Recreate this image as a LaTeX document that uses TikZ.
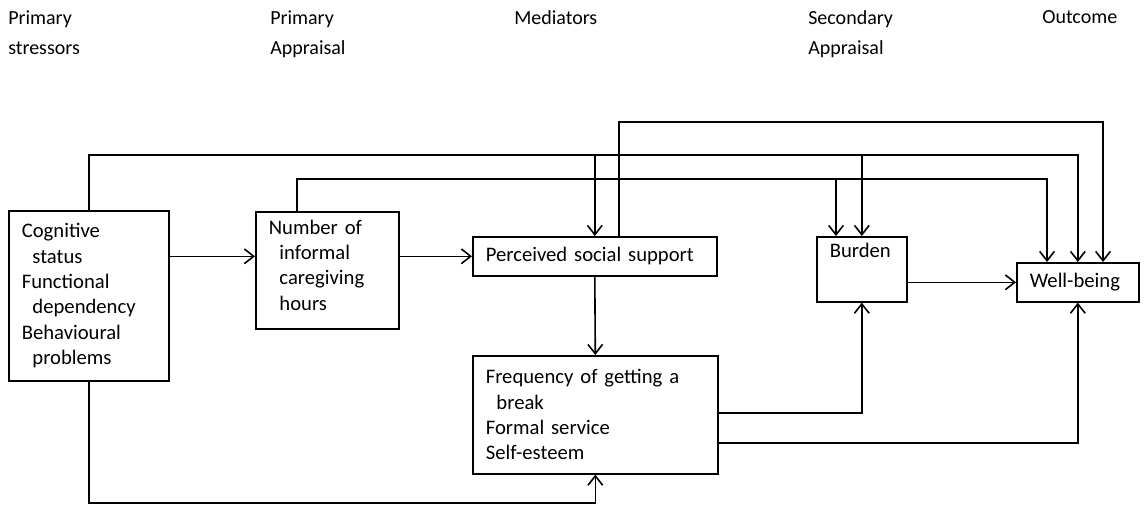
\documentclass[tikz,border=0pt]{standalone}
\usepackage{fontspec}
\setmainfont{Carlito}
\usetikzlibrary{arrows.meta}
\tikzset{
  >={Straight Barb[length=7pt,width=11pt]},
  box/.style={draw, line width=1.2pt, align=left, anchor=north west, inner xsep=9.75pt, inner ysep=2pt, font=\fontsize{15.5}{19}\selectfont},
  head/.style={align=left, anchor=north west, inner sep=0pt, font=\fontsize{15}{22.5}\selectfont},
  link/.style={->, line width=1.2pt}
}
\begin{document}
\begin{tikzpicture}[x=0.75pt, y=-0.75pt]
	\useasboundingbox (0,0) rectangle (1144,508);
	% column headings
	\node[head] (hstress) at (8,10) {Primary\\stressors};
	\node[head] (hprim) at (270,10) {Primary\\Appraisal};
	\node[head] (hmed) at (514,10) {Mediators};
	\node[head] (hsec) at (808,10) {Secondary\\Appraisal};
	\node[head] (hout) at (1042,10) {Outcome};
	% boxes
	\node[box, text width=100.5pt, minimum height=127.5pt] (stress) at (8,210) {Cognitive\\\hspace*{8pt}status\\Functional\\\hspace*{8pt}dependency\\Behavioural\\\hspace*{8pt}problems};
	\node[box, text width=87.75pt, minimum height=87.75pt] (hours) at (255,211) {Number of\\\hspace*{8pt}informal\\\hspace*{8pt}caregiving\\\hspace*{8pt}hours\\[-11pt]~};
	\node[box, text width=163.5pt, minimum height=29.25pt] (support) at (472,236) {Perceived social support};
	\node[box, text width=164.25pt, minimum height=88.5pt] (break) at (472,355) {Frequency of getting a\\\hspace*{8pt}break\\Formal service\\Self-esteem};
	\node[box, text width=48pt, minimum height=48.75pt] (burden) at (816,236) {Burden\\[9pt]~};
	\node[box, text width=72pt, minimum height=29.25pt] (well) at (1016,262) {Well-being};
	% helper coordinates
	\coordinate (t1a) at (619,122);
	\coordinate (t1b) at (1103,122);
	\coordinate (t2) at (0,155);
	\coordinate (t3a) at (297,179);
	\coordinate (t3b) at (1047,179);
	\coordinate (t3c) at (836,179);
	\coordinate (low) at (0,503);
	\coordinate (r1) at (0,413);
	\coordinate (r2) at (0,443);
	% arrows
	\draw[link] (stress.east |- support.west) -- (hours.west |- support.west);
	\draw[link] (hours.east |- support.west) -- (support.west);
	\draw[link] (support.south) -- (break.north);
	\draw[link] (stress.south) -- (stress.south |- low) -| (break.south);
	\draw[link] (break.east |- r1) -| (burden.south);
	\draw[link] (break.east |- r2) -| (well.south);
	\draw[link] (burden.east |- well.west) -- (well.west);
	\draw[link] (support.north -| t1a) -- (t1a) -- (t1b) -- (well.north -| t1b);
	\draw[link] (stress.north) |- (well.north |- t2) -- (well.north);
	\draw[link] (support.north |- t2) -- (support.north);
	\draw[link] (burden.north |- t2) -- (burden.north);
	\draw[link] (hours.north -| t3a) -- (t3a) -- (t3b) -- (well.north -| t3b);
	\draw[link] (t3c) -- (burden.north -| t3c);
\end{tikzpicture}
\end{document}
